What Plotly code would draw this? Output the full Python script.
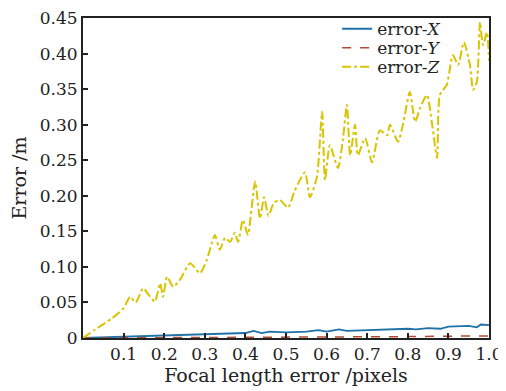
import plotly.graph_objects as go

# ---- data ----
z_x = [0.0, 0.03, 0.07, 0.10, 0.116, 0.13, 0.148, 0.16, 0.177, 0.19, 0.197, 0.207, 0.222, 0.239,
       0.264, 0.288, 0.305, 0.318, 0.325, 0.337, 0.35, 0.362, 0.374, 0.382, 0.394, 0.406, 0.424,
       0.436, 0.446, 0.457, 0.47, 0.485, 0.505, 0.52, 0.534, 0.547, 0.559, 0.576, 0.589, 0.596,
       0.608, 0.628, 0.64, 0.65, 0.658, 0.67, 0.677, 0.695, 0.712, 0.731, 0.749, 0.756, 0.776,
       0.788, 0.805, 0.818, 0.83, 0.847, 0.86, 0.872, 0.879, 0.896, 0.911, 0.924, 0.938, 0.953,
       0.961, 0.97, 0.978, 0.985, 0.995, 1.0]
z_err = [0.0, 0.012, 0.027, 0.042, 0.058, 0.050, 0.070, 0.062, 0.051, 0.077, 0.058, 0.086, 0.072, 0.082,
         0.105, 0.091, 0.110, 0.135, 0.145, 0.124, 0.141, 0.135, 0.148, 0.135, 0.166, 0.145, 0.220,
         0.168, 0.198, 0.172, 0.190, 0.194, 0.183, 0.205, 0.222, 0.233, 0.198, 0.226, 0.318, 0.222,
         0.271, 0.239, 0.278, 0.328, 0.257, 0.300, 0.257, 0.281, 0.247, 0.292, 0.285, 0.300, 0.276,
         0.300, 0.346, 0.304, 0.323, 0.342, 0.300, 0.253, 0.342, 0.356, 0.398, 0.384, 0.416, 0.384,
         0.349, 0.360, 0.444, 0.412, 0.430, 0.390]

xy_x = [0.0, 0.05, 0.1, 0.15, 0.2, 0.25, 0.3, 0.35, 0.4, 0.42, 0.44, 0.46, 0.5, 0.55, 0.58, 0.6,
        0.63, 0.65, 0.7, 0.75, 0.8, 0.82, 0.85, 0.88, 0.9, 0.95, 0.97, 0.98, 1.0]
x_err = [0.0, 0.001, 0.002, 0.0025, 0.003, 0.004, 0.005, 0.006, 0.007, 0.010, 0.007, 0.009, 0.008,
         0.009, 0.011, 0.009, 0.012, 0.010, 0.011, 0.012, 0.013, 0.012, 0.014, 0.013, 0.016, 0.017,
         0.015, 0.019, 0.018]
y_err = [0.0, 0.0002, 0.0003, 0.0004, 0.0005, 0.0006, 0.0007, 0.0008, 0.0009, 0.0010, 0.0010, 0.0011,
         0.0012, 0.0013, 0.0014, 0.0014, 0.0015, 0.0016, 0.0017, 0.0018, 0.0019, 0.0020, 0.0022,
         0.0024, 0.0026, 0.0030, 0.0028, 0.0032, 0.0030]

x_tickvals = [0.1, 0.2, 0.3, 0.4, 0.5, 0.6, 0.7, 0.8, 0.9, 1.0]
x_ticktext = ["0.1", "0.2", "0.3", "0.4", "0.5", "0.6", "0.7", "0.8", "0.9", "1.0"]
y_tickvals = [0, 0.05, 0.10, 0.15, 0.20, 0.25, 0.30, 0.35, 0.40, 0.45]
y_ticktext = ["0", "0.05", "0.10", "0.15", "0.20", "0.25", "0.30", "0.35", "0.40", "0.45"]

FONT = "DejaVu Serif"
INK = "#222222"

fig = go.Figure()
fig.add_trace(go.Scatter(x=xy_x, y=x_err, mode="lines", name="error-<i>X</i>", legend="legend",
                         line=dict(color="#1f72a8", width=1.8)))
fig.add_trace(go.Scatter(x=xy_x, y=y_err, mode="lines", name="error-<i>Y</i>", legend="legend2",
                         line=dict(color="#b04a30", width=1.5, dash="dash")))
fig.add_trace(go.Scatter(x=z_x, y=z_err, mode="lines", name="error-<i>Z</i>", legend="legend3",
                         line=dict(color="#d8c400", width=2, dash="dashdot",
                                   shape="spline", smoothing=0.6)))

axis_common = dict(showline=True, linecolor=INK, linewidth=2, mirror=True,
                   ticks="inside", ticklen=5, tickwidth=2, tickcolor=INK,
                   showgrid=False, zeroline=False, automargin=False,
                   ticklabeloverflow="allow",
                   tickfont=dict(family=FONT, size=17, color=INK))

fig.update_xaxes(range=[0, 1.0], tickvals=x_tickvals, ticktext=x_ticktext,
                 title=dict(text="Focal length error /pixels",
                            font=dict(family=FONT, size=19, color=INK), standoff=4),
                 **axis_common)
fig.update_yaxes(range=[0, 0.45], tickvals=y_tickvals, ticktext=y_ticktext,
                 title=dict(text="Error /m",
                            font=dict(family=FONT, size=19, color=INK), standoff=9),
                 **axis_common)

leg_common = dict(x=0.626, xanchor="left", yanchor="middle",
                  bgcolor="rgba(0,0,0,0)", borderwidth=0,
                  font=dict(family=FONT, size=17, color=INK), itemwidth=30)

# page body has an 8px default margin, so the figure is offset by (8, 8)
fig.update_layout(
    width=498, height=383,
    margin=dict(l=75, r=17, t=10, b=53, autoexpand=False),
    paper_bgcolor="white", plot_bgcolor="white",
    showlegend=True,
    legend=dict(y=0.965, **leg_common),
    legend2=dict(y=0.906, **leg_common),
    legend3=dict(y=0.846, **leg_common),
)

fig.write_html("out.html")
